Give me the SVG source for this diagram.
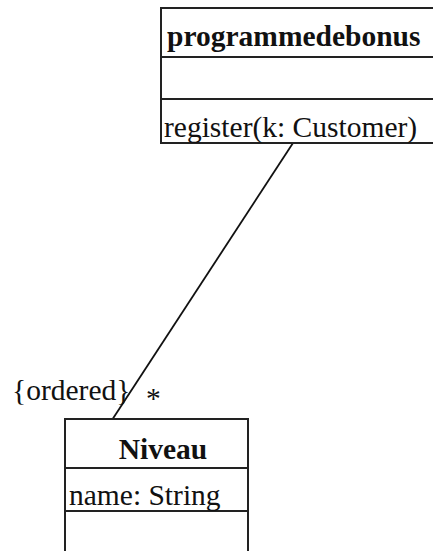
<svg xmlns="http://www.w3.org/2000/svg" width="433" height="551" viewBox="0 0 433 551">
<style>
.box{fill:#fff;stroke:#222;stroke-width:2}
.div{stroke:#222;stroke-width:2}
.t{font-family:"Liberation Serif","Times New Roman",serif;font-size:29.5px;fill:#111}
.b{font-weight:bold}
.conn{stroke:#111;stroke-width:1.8;fill:none}
</style>
<rect width="433" height="551" fill="#fff"/>
<g id="connectors">
<line class="conn" x1="293" y1="143" x2="112" y2="420"/>
<text class="t" x="12" y="400" font-size="25">{ordered}</text>
<text class="t" x="146" y="408" font-size="24">*</text>
</g>
<g id="programmedebonus">
<rect class="box" x="161" y="8" width="290" height="135"/>
<line class="div" x1="161" y1="57" x2="440" y2="57"/>
<line class="div" x1="161" y1="99" x2="440" y2="99"/>
<text class="t b" x="167" y="46">programmedebonus</text>
<text class="t" x="164" y="137">register(k: Customer)</text>
</g>
<g id="Niveau">
<rect class="box" x="65" y="419" width="183" height="150"/>
<line class="div" x1="65" y1="468" x2="248" y2="468"/>
<line class="div" x1="65" y1="511" x2="248" y2="511"/>
<text class="t b" x="163" y="459" text-anchor="middle" font-size="29">Niveau</text>
<text class="t" x="69" y="505" font-size="29">name: String</text>
</g>
</svg>
